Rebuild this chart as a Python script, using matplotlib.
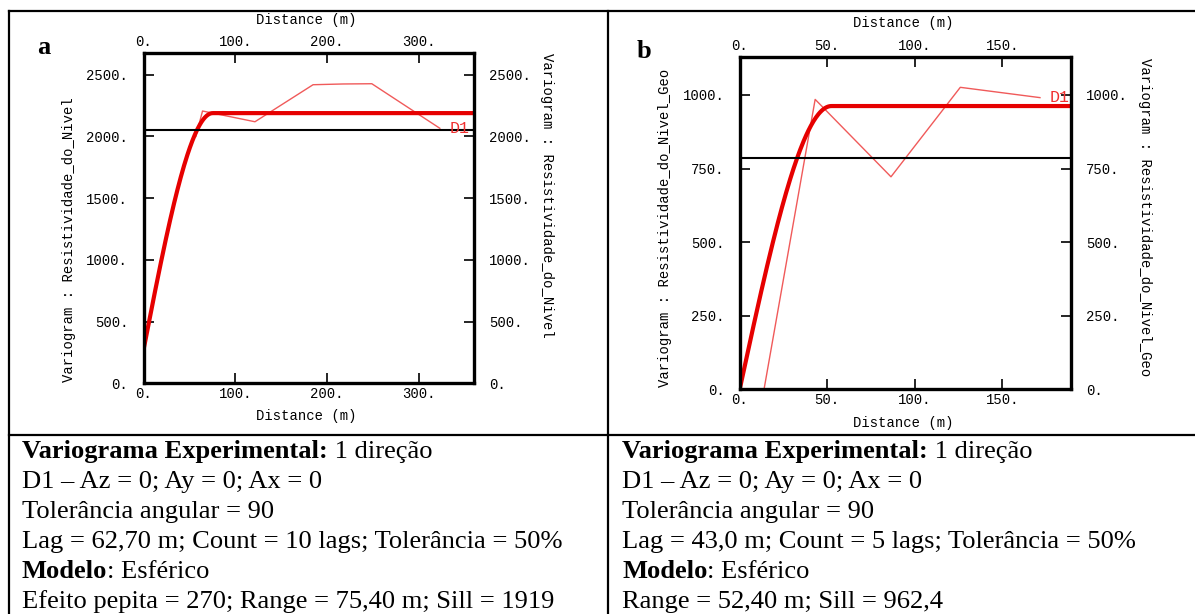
import numpy as np
import matplotlib
matplotlib.use("Agg")
import matplotlib.pyplot as plt
from matplotlib.ticker import FixedLocator, FuncFormatter
from matplotlib.lines import Line2D

W, H = 1195, 614

# ---------------- data ----------------
# Panel a
a_exp_dist = [57, 64.3, 121.4, 184.7, 217.2, 248.7, 322.8]
a_exp_gamma = [2000, 2206, 2119, 2419, 2425, 2427, 2066]
a_nugget, a_range, a_sill = 270, 75.4, 1919
a_variance = 2052
a_xticks = [0, 100, 200, 300]
a_yticks = [0, 500, 1000, 1500, 2000, 2500]
a_xlim = (0, 360)
a_ylim = (0, 2676)
a_ylabel = "Variogram : Resistividade_do_Nivel"

# Panel b
b_exp_dist = [13.9, 43.1, 86.4, 126.0, 171.5]
b_exp_gamma = [0, 985, 722, 1026, 991]
b_nugget, b_range, b_sill = 0, 52.4, 962.4
b_variance = 785
b_xticks = [0, 50, 100, 150]
b_yticks = [0, 250, 500, 750, 1000]
b_xlim = (0, 189)
b_ylim = (0, 1128)
b_ylabel = "Variogram : Resistividade_do_Nivel_Geo"

xlabel = "Distance (m)"
dir_label = "D1"

a_text = [
    ("Variograma Experimental:", " 1 direção"),
    ("", "D1 \u2013 Az = 0; Ay = 0; Ax = 0"),
    ("", "Tolerância angular = 90"),
    ("", "Lag = 62,70 m; Count = 10 lags; Tolerância = 50%"),
    ("Modelo", ": Esférico"),
    ("", "Efeito pepita = 270; Range = 75,40 m; Sill = 1919"),
]
b_text = [
    ("Variograma Experimental:", " 1 direção"),
    ("", "D1 \u2013 Az = 0; Ay = 0; Ax = 0"),
    ("", "Tolerância angular = 90"),
    ("", "Lag = 43,0 m; Count = 5 lags; Tolerância = 50%"),
    ("Modelo", ": Esférico"),
    ("", "Range = 52,40 m; Sill = 962,4"),
]

# ---------------- helpers ----------------
def fx(x):
    return x / W

def fy(y):
    return 1 - y / H

def spherical(h, c0, a, c):
    h = np.asarray(h, dtype=float)
    r = np.clip(h / a, 0, 1)
    return c0 + c * (1.5 * r - 0.5 * r ** 3)

MONO = "Liberation Mono"
RED = "#e60000"
THIN = "#f05a5a"

fig = plt.figure(figsize=(W / 100, H / 100), dpi=100)
fig.patch.set_facecolor("white")

def make_panel(box, xs, ys, c0, rng, sill, var, xticks, yticks, xlim, ylim,
               ylabel, top_lab, bot_lab, left_lab, right_lab):
    l, r, t, b = box
    ax = fig.add_axes([fx(l), fy(b), (r - l) / W, (b - t) / H])
    ax.set_xlim(*xlim)
    ax.set_ylim(*ylim)
    h = np.linspace(0, xlim[1], 400)
    ax.plot(xs, ys, color=THIN, lw=1.0, zorder=2, clip_on=True)
    ax.plot(h, spherical(h, c0, rng, sill), color=RED, lw=3.0, zorder=3,
            solid_capstyle="butt")
    ax.axhline(var, color="black", lw=1.5, zorder=4)
    ax.annotate(dir_label, (xs[-1], ys[-1]), xytext=(7, 0),
                textcoords="offset points", color="#f03030", fontsize=12,
                family=MONO, va="center", ha="left", zorder=7,
                annotation_clip=False)
    ax.xaxis.set_major_locator(FixedLocator(xticks))
    ax.yaxis.set_major_locator(FixedLocator(yticks))
    fmt = FuncFormatter(lambda v, p: f"{v:.0f}.")
    ax.xaxis.set_major_formatter(fmt)
    ax.yaxis.set_major_formatter(fmt)
    ax.tick_params(axis="both", which="major", direction="in", length=7,
                   width=1.2, top=True, right=True, labeltop=True,
                   labelright=True, labelsize=10, colors="black")
    ax.tick_params(axis="x", pad=3)
    ax.tick_params(axis="y", pad=11)
    for lab in ax.get_xticklabels() + ax.get_yticklabels():
        lab.set_family(MONO)
    for sp in ax.spines.values():
        sp.set_linewidth(2.4)
        sp.set_zorder(6)
    ax.set_facecolor("white")
    # labels
    fig.text(fx(top_lab[0]), fy(top_lab[1]), xlabel, family=MONO, fontsize=10,
             ha="center", va="center")
    fig.text(fx(bot_lab[0]), fy(bot_lab[1]), xlabel, family=MONO, fontsize=10,
             ha="center", va="center")
    fig.text(fx(left_lab[0]), fy(left_lab[1]), ylabel, family=MONO, fontsize=10,
             ha="center", va="center", rotation=90)
    fig.text(fx(right_lab[0]), fy(right_lab[1]), ylabel, family=MONO,
             fontsize=10, ha="center", va="center", rotation=270)
    return ax

ax_a = make_panel((143.5, 474, 53, 383.3), a_exp_dist, a_exp_gamma,
                  a_nugget, a_range, a_sill, a_variance, a_xticks, a_yticks,
                  a_xlim, a_ylim, a_ylabel,
                  (306, 20), (306, 416), (69, 239.5), (547, 195))
ax_b = make_panel((739.7, 1070.6, 57.3, 389.3), b_exp_dist, b_exp_gamma,
                  b_nugget, b_range, b_sill, b_variance, b_xticks, b_yticks,
                  b_xlim, b_ylim, b_ylabel,
                  (903.6, 23.3), (903.6, 422.7), (664.5, 227.5), (1144.6, 217.5))

# panel letters
fig.text(fx(44), fy(48), "a", family="Liberation Serif", fontweight="bold",
         fontsize=19, ha="center", va="center")
fig.text(fx(643.6), fy(51), "b", family="Liberation Serif", fontweight="bold",
         fontsize=19, ha="center", va="center")

# table lines
def hline(y, x0, x1):
    fig.add_artist(Line2D([fx(x0), fx(x1)], [fy(y), fy(y)], color="black",
                          lw=1.6, transform=fig.transFigure))

def vline(x, y0, y1):
    fig.add_artist(Line2D([fx(x), fx(x)], [fy(y0), fy(y1)], color="black",
                          lw=1.6, transform=fig.transFigure))

hline(11, 8.5, W)
hline(435, 8.5, W)
vline(9, 11, H)
vline(608, 11, H)

# text block: size fitted so the longest line of panel a spans ~540 px
renderer = fig.canvas.get_renderer()
SERIF = "Liberation Serif"
probe = fig.text(0, 0, a_text[3][1], family=SERIF, fontsize=17)
wpx = probe.get_window_extent(renderer).width
probe.remove()
fsize = 17 * 540.0 / wpx

baselines = [458, 488, 518, 548, 578, 608]

def write_block(x0, lines):
    for (bold, normal), yb in zip(lines, baselines):
        x = x0
        if bold:
            tb = fig.text(fx(x), fy(yb), bold, family=SERIF, fontweight="bold",
                          fontsize=fsize, ha="left", va="baseline")
            x += tb.get_window_extent(renderer).width
        fig.text(fx(x), fy(yb), normal, family=SERIF, fontsize=fsize,
                 ha="left", va="baseline")

write_block(22, a_text)
write_block(622, b_text)

fig.savefig("out.png", dpi=100, facecolor="white")
